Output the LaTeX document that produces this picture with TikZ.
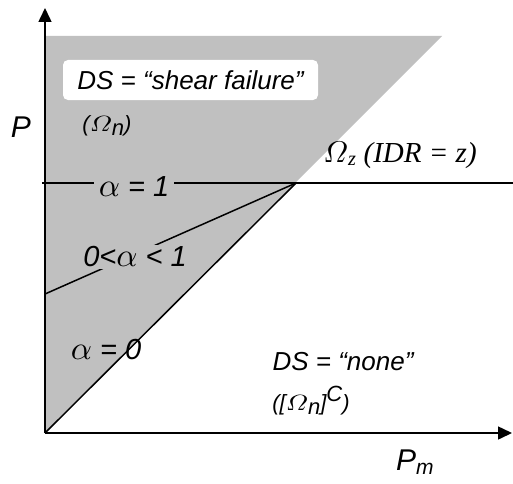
\documentclass[tikz,border=0pt]{standalone}
\usepackage{amsmath}
\usepackage{fontspec}
\usepackage{graphicx}
\setmainfont{Liberation Sans}
\newfontfamily\timesf{Liberation Serif}
\usetikzlibrary{arrows.meta}
\definecolor{regiongray}{HTML}{C0C0C0}
\newcommand\alf{{\fontsize{10}{12}\selectfont\scalebox{3.3}{$\alpha$}}}
\newcommand\omg{{\fontsize{10}{12}\selectfont\scalebox{2.7}[2.2]{$\varOmega$}}}
\newcommand\omgbig{{\fontsize{10}{12}\selectfont\scalebox{3.0}{$\varOmega$}}}
\begin{document}
\begin{tikzpicture}[x=1pt,y=1pt,
  axis/.style={line width=1.5pt,-{Triangle[length=14pt,width=13pt]}},
  bline/.style={line width=1.5pt},
  lab/.style={font=\fontsize{26}{30}\selectfont\itshape,inner sep=1pt},
  alab/.style={font=\fontsize{29}{30}\selectfont\itshape,inner sep=1pt},
  small/.style={font=\fontsize{22}{24}\selectfont\itshape,inner sep=1pt}]
\useasboundingbox (0,0) rectangle (513,483);
\coordinate (O) at (45,50);
\coordinate (K) at (296,300);
\coordinate (L) at (42,300);
\coordinate (R) at (513,300);
\coordinate (A) at (45,189);
\coordinate (Ytop) at (45,475);
\coordinate (Xend) at (512,50);
\fill[regiongray] (O) -- (45,447) -- (442,447) -- cycle;
\draw[bline] (L) -- (R);
\draw[bline] (O) -- (K);
\draw[bline] (A) -- (K);
\draw[axis] (O) -- (Ytop);
\draw[axis] (O) -- (Xend);
\node[alab,fill=regiongray,inner sep=5pt] (a1) at (134,296) {\alf{} = 1};
\node[alab,fill=regiongray,inner sep=2pt] (a01) at (135,226) {0<\alf{} < 1};
\node[alab] (a0) at (106,133) {\alf{} = 0};
\node[lab,fill=white,rounded corners=5pt,minimum width=255pt,minimum height=40pt] (sf) at (190.5,403) {DS = “shear failure”};
\node[small] (on) at (107,357) {(\omg\raisebox{-4pt}{n})};
\node[font=\fontsize{30}{32}\selectfont\itshape,inner sep=1pt] (P) at (21,356) {P};
\node[font=\fontsize{29}{32}\selectfont\timesf\itshape,inner sep=1pt] (oz) at (400,328) {\omgbig\textsubscript{z} (IDR = z)};
\node[lab] (none) at (343,121) {DS = “none”};
\node[small] (onc) at (311,82) {([\omg\raisebox{-4pt}{n}]\raisebox{9pt}{C})};
\node[font=\fontsize{30}{32}\selectfont\itshape,inner sep=1pt] (Pm) at (415,21) {P\textsubscript{m}};
\end{tikzpicture}
\end{document}
